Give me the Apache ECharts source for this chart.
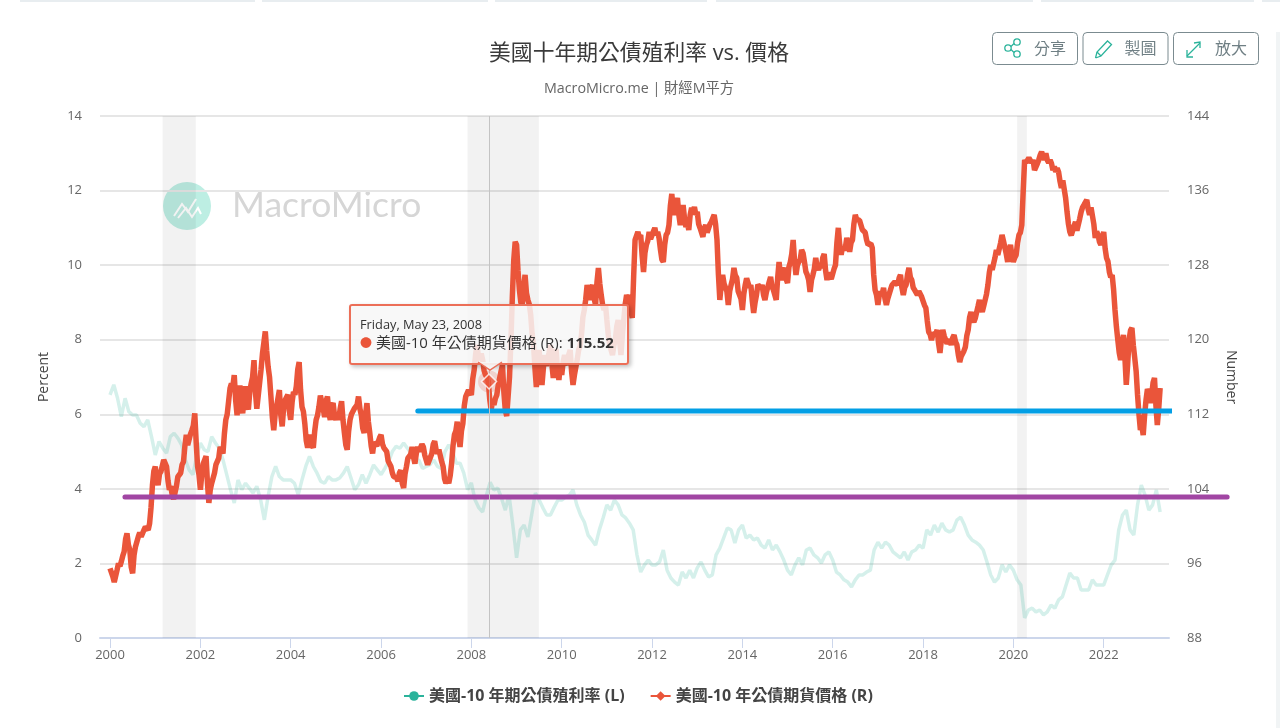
<!DOCTYPE html>
<html><head><meta charset="utf-8">
<style>html,body{margin:0;padding:0;background:#fff}#c{width:1280px;height:728px}</style>
<script src="https://cdn.jsdelivr.net/npm/echarts@6/dist/echarts.min.js"></script>
</head><body><div id="c"></div>
<script>
// ---- 10Y futures price (right axis), 16 readings per year ----
const price2000=[95.47,94.58,94.04,96.0,96.19,97.26,99.23,97.44,94.94,97.8,98.87,98.87,99.59,99.77,100.3,104.4];
const price2001=[106.4,104.4,105.85,107.1,106.4,103.9,103.35,102.8,105.3,105.7,106.9,109.8,108.5,110.3,112.1,106.4];
const price2002=[103.9,106.7,107.5,102.5,104.6,105.7,106.7,108.5,107.8,111.4,113.4,115.3,116.2,111.9,115.1,112.1];
const price2003=[115,112.5,115.3,117.8,112.6,114.1,118.5,120.9,117.1,113.9,110.3,112.8,114.6,110.7,113.5,114.1];
const price2004=[111.4,114.4,115,117.6,112.8,111,108.4,110,108.4,111.4,112.8,114.2,111.7,113.9,111.4,113.2];
const price2005=[111.4,111.4,113.4,110,108.2,111.4,111.8,112.8,113.9,111.9,110,113.2,110,107.8,109.2,108.7];
const price2006=[109.8,108.4,108,106.7,105.7,105.3,104.8,106,104.1,106.4,107.5,108.5,106.7,108.5,108.4,108.5];
const price2007=[107.4,106.4,107.8,109.1,107.8,108,106.4,104.6,104.6,106.7,109.8,111.2,108.5,111,113.9,114.6];
const price2008=[114.07,116.76,119.44,117.83,117.83,116.22,115.52,112.46,113,114.07,115.15,117.29,112.46,111.93,119.97,128.56];
const price2009=[130.17,125.34,123.73,126.95,124.27,122.66,119.44,114.93,118.9,115.15,118.36,117.29,119.44,115.9,119,115.68];
const price2010=[116.22,118.36,117.29,118.9,115.15,116.22,118.9,120.51,123.19,125.87,124.27,125.87,123.73,127.7,124.8,123.19];
const price2011=[122.12,119.44,118.36,119.97,122.12,118.36,122.12,124.8,124.8,122.33,130.7,131.56,131.24,127.27,130.17,131.56];
const price2012=[130.7,132,131.56,129.63,128.34,131.24,132.3,135.64,133.4,135.2,132.3,134.46,132.1,131.78,134.14,134.24];
const price2013=[133.71,131.99,131.03,132.31,131.56,132.64,133.39,130.7,124.27,126.95,125.87,123.73,125.87,127.7,126.63,124.8];
const price2014=[123.19,125.87,126.41,125.87,122.87,124.8,126.09,125.87,124.27,125.12,126.73,125.34,124.27,128.34,126.41,127.7];
const price2015=[126.09,128.34,130.7,126.95,128.34,129.63,128.34,126.95,125.12,126.95,128.77,127.49,127.7,129.2,126.41,127.27];
const price2016=[126.41,128.02,132,129.1,129.63,130.92,129.42,130.7,133.39,132.85,132.31,131.78,130.7,130.17,129.85,125.34];
const price2017=[123.73,125.12,125.55,123.73,124.27,125.87,126.2,125.87,126.95,124.8,125.87,127.7,126.41,125.34,124.8,125.12];
const price2018=[124.48,123.41,120.83,119.97,120.51,121.05,118.58,121.05,120.19,119.44,119.44,120.51,119.44,117.61,118.04,119.22];
const price2019=[121.05,122.98,121.9,122.33,124.27,122.98,123.73,125.87,128.02,127.49,129.63,129.1,131.24,130.7,128.34,130.17];
const price2020=[128.34,129.1,131.24,132.31,139.29,139.07,139.29,139.29,138,139.29,140.15,139.29,139.29,139.29,138.2,138];
const price2021=[138,136.28,136.92,133.71,131.56,131.13,132.64,131.78,133.71,134.46,135,133.39,134.14,130.92,131.24,130.17];
const price2022=[131.56,128.77,127.27,126.95,123.19,119.97,117.83,120.51,115.15,119.97,121.26,118.04,114.07,110.32,109.78,113.54];
const price2023=[114.4,114.07,115.9,110.85,114.82];
// ---- readings of the day-to-day chatter, half a step after each reading above ----
const chatter2000=[95.4,94.0,95.3,95.7,96.8,98.6,98.0,95.6,96.9,98.0,99.3,98.7,99.9,99.6,102.0,105.9];
const chatter2001=[105.0,105.6,106.0,107.2,104.9,104.3,102.9,104.3,105.1,106.6,108.6,108.7,109.9,110.8,109.0,105.5];
const chatter2002=[105.6,106.6,104.6,103.9,104.7,106.6,107.3,108.2,109.9,112.0,114.8,115.0,113.5,114.1,113.0,114.0];
const chatter2003=[113.3,114.4,116.0,114.4,114.0,116.8,119.7,118.8,116.0,111.7,112.0,113.0,111.9,112.7,113.4,112.4];
const chatter2004=[113.3,114.1,116.8,114.6,112.3,109.2,109.8,108.7,110.2,111.9,114.0,112.6,113.4,112.2,112.9,111.9];
const chatter2005=[112.0,112.6,111.4,108.7,110.2,112.0,112.6,113.0,112.6,110.5,112.0,111.2,108.6,109.0,108.6,109.5];
const chatter2006=[108.8,108.5,107.0,106.4,105.3,105.2,105.7,104.6,105.6,107.3,107.7,107.4,107.8,108.0,108.8,107.6];
const chatter2007=[106.6,107.4,108.8,108.2,108.2,106.9,105.1,105.0,105.4,108.6,110.2,109.5,110.2,112.9,114.0,114.8];
const chatter2008=[115.8,118.4,118.2,118.5,116.7,116.0,113.6,113.5,113.7,115.1,116.6,114.4,111.8,116.0,124.6,130.5];
const chatter2009=[127.4,124.0,125.6,125.0,123.8,120.6,117.0,116.7,116.8,117.0,117.2,118.6,117.4,118.0,116.8,117.2];
const chatter2010=[117.6,117.6,118.4,116.6,116.2,117.9,119.3,122.4,124.3,125.1,125.5,124.4,126.2,126.0,123.7,123.8];
const chatter2011=[120.5,119.6,119.4,121.4,119.9,120.5,123.8,124.2,123.2,126.8,130.6,131.0,129.0,129.3,130.6,130.8];
const chatter2012=[131.6,131.2,130.9,128.6,130.2,131.5,134.4,134.0,134.6,133.4,133.7,133.0,132.6,133.4,133.6,133.4];
const chatter2013=[132.4,131.9,131.9,131.5,132.4,132.7,132.4,127.0,125.9,126.0,125.2,125.2,126.5,126.9,125.2,124.4];
const chatter2014=[124.9,126.6,125.6,124.2,124.0,125.9,125.5,124.8,125.1,126.2,125.7,125.2,126.6,126.9,127.4,126.5];
const chatter2015=[127.8,129.2,128.4,128.0,128.6,129.3,127.3,126.4,126.4,127.6,127.8,128.0,128.8,127.4,127.2,126.5];
const chatter2016=[127.6,130.4,130.2,130.0,129.9,130.4,130.4,132.4,132.9,132.8,131.8,131.5,130.2,130.3,127.0,124.8];
const chatter2017=[124.8,124.9,124.4,124.4,125.4,125.8,126.3,126.6,125.6,125.6,127.0,126.7,125.6,125.4,125.2,124.6];
const chatter2018=[123.7,122.0,120.6,120.6,120.6,119.6,120.0,120.4,119.6,120.0,120.2,119.8,118.4,118.2,118.8,120.4];
const chatter2019=[122.4,122.2,122.3,123.6,123.4,123.6,124.9,127.2,127.5,128.8,129.1,130.4,130.6,129.2,129.6,129.0];
const chatter2020=[128.8,130.4,131.5,136.0,139.0,139.5,139.0,138.2,138.9,139.8,139.7,140.0,139.0,138.9,138.6,138.4];
const chatter2021=[137.0,137.1,135.2,132.4,131.2,132.2,131.7,133.0,134.2,134.5,134.0,134.2,132.4,131.6,130.5,131.0];
const chatter2022=[129.8,128.4,126.7,125.4,121.4,118.6,119.6,118.2,117.4,121.0,119.4,116.6,112.0,110.8,111.9,114.7];
const chatter2023=[113.2,115.4,113.0,112.6];
// ---- 10Y yield (left axis), 12 readings per year ----
const yield2000=[6.52,6.79,6.43,5.94,6.43,6.07,5.98,5.98,5.76,5.67,5.85,5.4];
const yield2001=[4.91,5.27,5.09,4.96,5.4,5.49,5.36,5.18,4.78,4.51,4.38,4.87];
const yield2002=[5.23,5.05,5,5.4,5.23,5.09,4.78,4.38,3.98,3.62,4.24,3.98];
const yield2003=[4.15,4.02,3.89,4.07,3.71,3.17,3.8,4.33,4.6,4.33,4.24,4.24];
const yield2004=[4.24,4.15,3.84,4.24,4.6,4.87,4.6,4.42,4.2,4.15,4.33,4.24];
const yield2005=[4.24,4.29,4.42,4.6,4.29,3.98,4.11,4.38,4.15,4.38,4.64,4.51];
const yield2006=[4.38,4.55,4.73,5,5.14,5.09,5.23,5.09,4.96,4.73,4.78,4.55];
const yield2007=[4.6,4.65,4.78,4.6,4.55,5,5.18,5,4.69,4.69,4.42,3.98];
const yield2008=[4.16,3.7,3.49,3.38,3.83,4.18,3.97,4.02,3.75,3.43,3.83,3.03];
const yield2009=[2.15,2.9,3.03,2.71,3.3,3.89,3.7,3.49,3.3,3.3,3.51,3.7];
const yield2010=[3.7,3.78,3.83,3.97,3.57,3.3,3.11,2.76,2.63,2.49,2.9,3.22];
const yield2011=[3.57,3.43,3.7,3.57,3.3,3.22,3.08,2.9,2.23,1.77,1.96,2.09];
const yield2012=[1.96,1.96,2.04,2.36,1.82,1.61,1.5,1.42,1.77,1.61,1.82,1.61];
const yield2013=[1.88,2.04,1.82,1.64,1.69,2.23,2.41,2.68,2.95,2.9,2.55,2.9];
const yield2014=[3.03,2.68,2.76,2.63,2.68,2.49,2.41,2.63,2.36,2.49,2.31,2.09];
const yield2015=[1.82,1.69,1.96,2.15,1.96,2.36,2.41,2.23,2.15,2.01,2.23,2.31];
const yield2016=[2.09,1.77,1.69,1.56,1.5,1.37,1.56,1.69,1.69,1.77,1.82,2.36];
const yield2017=[2.57,2.41,2.57,2.49,2.31,2.23,2.15,2.31,2.09,2.31,2.36,2.49];
const yield2018=[2.41,2.9,2.76,3.03,2.84,3.08,2.9,2.84,2.9,3.16,3.24,3.03];
const yield2019=[2.76,2.63,2.57,2.49,2.36,2.04,1.69,1.5,1.61,1.96,1.77,1.96];
const yield2020=[1.82,1.56,1.42,.54,.75,.8,.7,.75,.62,.7,.88,.8];
const yield2021=[1.02,1.1,1.42,1.74,1.61,1.61,1.29,1.29,1.29,1.56,1.42,1.42];
const yield2022=[1.42,1.69,1.96,2.09,2.9,3.3,3.43,2.9,2.76,3.57,4.1,3.83];
const yield2023=[3.43,3.57,3.97,3.38];

const priceYears=[price2000,price2001,price2002,price2003,price2004,price2005,price2006,price2007,price2008,price2009,price2010,price2011,price2012,price2013,price2014,price2015,price2016,price2017,price2018,price2019,price2020,price2021,price2022,price2023];
const chatterYears=[chatter2000,chatter2001,chatter2002,chatter2003,chatter2004,chatter2005,chatter2006,chatter2007,chatter2008,chatter2009,chatter2010,chatter2011,chatter2012,chatter2013,chatter2014,chatter2015,chatter2016,chatter2017,chatter2018,chatter2019,chatter2020,chatter2021,chatter2022,chatter2023];
const yieldYears=[yield2000,yield2001,yield2002,yield2003,yield2004,yield2005,yield2006,yield2007,yield2008,yield2009,yield2010,yield2011,yield2012,yield2013,yield2014,yield2015,yield2016,yield2017,yield2018,yield2019,yield2020,yield2021,yield2022,yield2023];

const firstYear=2000, perYearPrice=16, perYearYield=12;
const xTickYears=[2000,2002,2004,2006,2008,2010,2012,2014,2016,2018,2020,2022];
const leftTicks=[0,14,2], rightTicks=[88,144,8];
const recessions=[['2001-03-01','2001-11-25'],['2007-12-01','2009-06-30'],['2020-02-01','2020-04-20']];
const hoverDate='2008-05-23', hoverValue=115.52;
const bluePrice=112.35, blueSpan=['2006-10-25','2023-07-15'];
const purplePrice=103.13, purpleSpan=['2000-05-01','2024-09-30'];
const axisSpan=['1999-10-12','2023-06-13'], wideAxisEnd='2025-01-12';
const nameYield='美國-10 年期公債殖利率 (L)', namePrice='美國-10 年公債期貨價格 (R)';

const CJK='"Open Sans","Noto Sans CJK TC",sans-serif';
const TEAL='#2bb39b', RED='#ea553a';
const yearTs=y=>new Date(y,0,1).getTime();
const ts=s=>{const p=s.split('-').map(Number);return new Date(p[0],p[1]-1,p[2]).getTime();};
function flatten(years,n,between){
  const out=[];
  years.forEach((arr,k)=>{
    const y=firstYear+k, a=yearTs(y), b=yearTs(y+1);
    arr.forEach((v,i)=>{
      out.push([a+(b-a)*i/n,v]);
      if(between && between[k][i]!==undefined) out.push([a+(b-a)*(i+.5)/n,between[k][i]]);
    });
  });
  return out;
}
const stroke='#7b8b90';
function button(x,label,icon){
  return {type:'group',x:x,y:32,silent:true,children:[
    {type:'rect',shape:{x:.5,y:.5,width:85,height:32,r:4},style:{fill:'#fff',stroke:stroke,lineWidth:1}},
    ...icon,
    {type:'text',x:42,y:16,style:{text:label,fill:'#6f7f84',font:'16px "Noto Sans CJK TC"',verticalAlign:'middle'}}
  ]};
}
const ic={fill:null,stroke:TEAL,lineWidth:1.3};
const shareIcon=[
  {type:'circle',shape:{cx:16,cy:16,r:3.2},style:{fill:'#fff',stroke:TEAL,lineWidth:1.3}},
  {type:'circle',shape:{cx:25,cy:10,r:3.2},style:{fill:'#fff',stroke:TEAL,lineWidth:1.3}},
  {type:'circle',shape:{cx:25,cy:22,r:3.2},style:{fill:'#fff',stroke:TEAL,lineWidth:1.3}},
  {type:'polyline',shape:{points:[[22,11.5],[19,14.5]]},style:ic},
  {type:'polyline',shape:{points:[[22,20.5],[19,17.5]]},style:ic}];
const penIcon=[
  {type:'polyline',shape:{points:[[13,26],[14.5,20],[25,9],[29,12.5],[18.5,24],[13,26]]},style:ic},
  {type:'polyline',shape:{points:[[14.5,20],[18.5,24]]},style:ic}];
const zoomIcon=[
  {type:'polyline',shape:{points:[[14,24],[27,11]]},style:ic},
  {type:'polyline',shape:{points:[[21,11],[27,10],[27,16]]},style:ic},
  {type:'polyline',shape:{points:[[14,18],[14,25],[20,25]]},style:ic}];

const strips=[[20,255],[262,488],[495,707],[716,1033],[1041,1254],[1262,1280]].map(s=>
  ({type:'rect',shape:{x:s[0],y:0,width:s[1]-s[0],height:2},style:{fill:'#e8edf0'},silent:true}));

const chart=echarts.init(document.getElementById('c'),null,{renderer:'canvas'});
const hoverTs=ts(hoverDate);
chart.setOption({
  animation:false,
  backgroundColor:'#fff',
  title:{text:'美國十年期公債殖利率 vs. 價格',subtext:'MacroMicro.me | 財經M平方',left:634,textAlign:'center',top:38,itemGap:17,
    textStyle:{fontFamily:CJK,fontSize:21.8,fontWeight:'normal',color:'#3a3a3a'},
    subtextStyle:{fontFamily:CJK,fontSize:14.3,color:'#666'}},
  grid:[{left:100,right:111,top:116,bottom:90},{left:100,right:40,top:116,bottom:90}],
  legend:{left:398,top:683,itemGap:25,itemWidth:20,itemHeight:12,textStyle:{fontFamily:CJK,fontSize:16,fontWeight:'bold',color:'#444'},
    selectedMode:false,
    data:[{name:nameYield,lineStyle:{color:TEAL,opacity:1,width:2},itemStyle:{color:TEAL}},
          {name:namePrice,lineStyle:{color:RED,opacity:1,width:2},itemStyle:{color:RED}}]},
  tooltip:{trigger:'item',alwaysShowContent:true,showDelay:0,transitionDuration:0,position:[349,304],
    backgroundColor:'rgba(247,247,247,0.85)',borderColor:'#ec6f58',borderWidth:2,borderRadius:3,padding:[10,9,4,9],
    extraCssText:'box-shadow:2px 2px 4px rgba(0,0,0,.25);width:258px;height:43px;overflow:visible;',
    formatter:()=>`<div style="font:12.8px 'Open Sans','Noto Sans CJK TC',sans-serif;color:#333;line-height:17px">Friday, May 23, 2008</div>
      <div style="font:15px 'Open Sans','Noto Sans CJK TC',sans-serif;color:#333;line-height:18px;white-space:nowrap"><span style="color:${RED};font-size:12px">●</span> ${namePrice}: <b>${hoverValue.toFixed(2)}</b></div>
      <svg width="24" height="10" style="position:absolute;left:127px;top:56px;overflow:visible"><path d="M0 0 L12 8 L24 0" fill="rgba(247,247,247,.9)" stroke="#ec6f58" stroke-width="1.5"/></svg>`},
  xAxis:[{type:'value',gridIndex:0,min:ts(axisSpan[0]),max:ts(axisSpan[1]),
    axisLine:{lineStyle:{color:'#ccd6eb',width:2}},
    axisTick:{length:10,lineStyle:{color:'#ccd6eb',width:1},customValues:xTickYears.map(yearTs)},
    axisLabel:{customValues:xTickYears.map(yearTs),margin:11,color:'#666',fontFamily:'"Open Sans",sans-serif',fontSize:13,hideOverlap:false,
      formatter:v=>String(new Date(v).getFullYear())},
    splitLine:{show:false}},
    {type:'value',gridIndex:1,min:ts(axisSpan[0]),max:ts(wideAxisEnd),show:false,splitLine:{show:false}}],
  yAxis:[
    {type:'value',gridIndex:0,min:leftTicks[0],max:leftTicks[1],interval:leftTicks[2],name:'Percent',nameLocation:'center',nameGap:49,
     nameTextStyle:{color:'#444',fontFamily:'"Open Sans",sans-serif',fontSize:14},
     axisLine:{show:false},axisTick:{show:false},axisLabel:{margin:18,padding:[2,0,0,0],color:'#666',fontFamily:'"Open Sans",sans-serif',fontSize:13},
     splitLine:{lineStyle:{color:'#e6e6e6',width:2}}},
    {type:'value',gridIndex:0,min:rightTicks[0],max:rightTicks[1],interval:rightTicks[2],name:'Number',nameLocation:'center',nameGap:55,nameRotate:-90,
     nameTextStyle:{color:'#444',fontFamily:'"Open Sans",sans-serif',fontSize:14},
     axisLine:{show:false},axisTick:{show:false},axisLabel:{margin:18,padding:[2,0,0,0],color:'#666',fontFamily:'"Open Sans",sans-serif',fontSize:13},
     splitLine:{show:false}},
    {type:'value',gridIndex:1,min:rightTicks[0],max:rightTicks[1],interval:rightTicks[2],show:false,splitLine:{show:false}}],
  graphic:{elements:[
    ...strips,
    {type:'rect',shape:{x:1276,y:32,width:4,height:696},style:{fill:'#f1f4f5'},silent:true},
    {type:'circle',shape:{cx:187,cy:206,r:24},style:{fill:'#bdeee3'},silent:true,z:-1},
    {type:'polyline',shape:{points:[[174,216],[182,204],[188,212],[196,199]]},style:{fill:null,stroke:'#fff',lineWidth:2},silent:true,z:-1},
    {type:'polyline',shape:{points:[[178,218],[186,208],[192,217],[198,208],[201,214]]},style:{fill:null,stroke:'#fff',lineWidth:2},silent:true,z:-1},
    {type:'text',x:232,y:206,silent:true,z:-1,style:{text:'MacroMicro',fill:'#d6d6d6',font:'35.5px Lato',verticalAlign:'middle'}},
    button(992,'分享',shareIcon),button(1082.5,'製圖',penIcon),button(1173,'放大',zoomIcon)
  ]},
  series:[
    {name:nameYield,type:'line',xAxisIndex:0,yAxisIndex:0,z:2,showSymbol:false,symbol:'circle',symbolSize:9,silent:true,
     lineStyle:{color:'rgba(43,179,155,0.2)',width:3.5},itemStyle:{color:TEAL},
     data:flatten(yieldYears,perYearYield),
     markArea:{silent:true,itemStyle:{color:'rgba(0,0,0,0.052)'},
       data:recessions.map(r=>[{xAxis:ts(r[0])},{xAxis:ts(r[1])}])}},
    {name:namePrice,type:'line',xAxisIndex:0,yAxisIndex:1,z:3,showSymbol:false,symbol:'diamond',symbolSize:10,silent:true,
     lineStyle:{color:RED,width:5.5},itemStyle:{color:RED},
     data:flatten(priceYears,perYearPrice,chatterYears)},
    {name:'blue',type:'line',xAxisIndex:0,yAxisIndex:1,z:4,clip:false,symbol:'none',silent:true,
     lineStyle:{color:'#039fe5',width:5,cap:'round'},
     data:blueSpan.map(d=>[ts(d),bluePrice])},
    {name:'purple',type:'line',xAxisIndex:1,yAxisIndex:2,z:4,clip:false,symbol:'none',silent:true,
     lineStyle:{color:'#a146a3',width:5,cap:'round'},
     data:purpleSpan.map(d=>[ts(d),purplePrice])},
    {name:'halo',type:'scatter',xAxisIndex:0,yAxisIndex:1,z:5,symbol:'circle',symbolSize:22,silent:true,
     itemStyle:{color:'rgba(234,85,58,0.25)'},
     data:[[hoverTs,hoverValue]],
     markLine:{silent:true,symbol:'none',label:{show:false},lineStyle:{color:'#c4c4c4',width:1,type:'solid'},data:[{xAxis:hoverTs}]}},
    {name:'hover',type:'scatter',xAxisIndex:0,yAxisIndex:1,z:6,symbol:'diamond',symbolSize:15,
     itemStyle:{color:RED,borderColor:'#fff',borderWidth:1.5},emphasis:{scale:false},
     data:[[hoverTs,hoverValue]]}
  ]
});
chart.dispatchAction({type:'showTip',seriesIndex:5,dataIndex:0});
</script></body></html>
